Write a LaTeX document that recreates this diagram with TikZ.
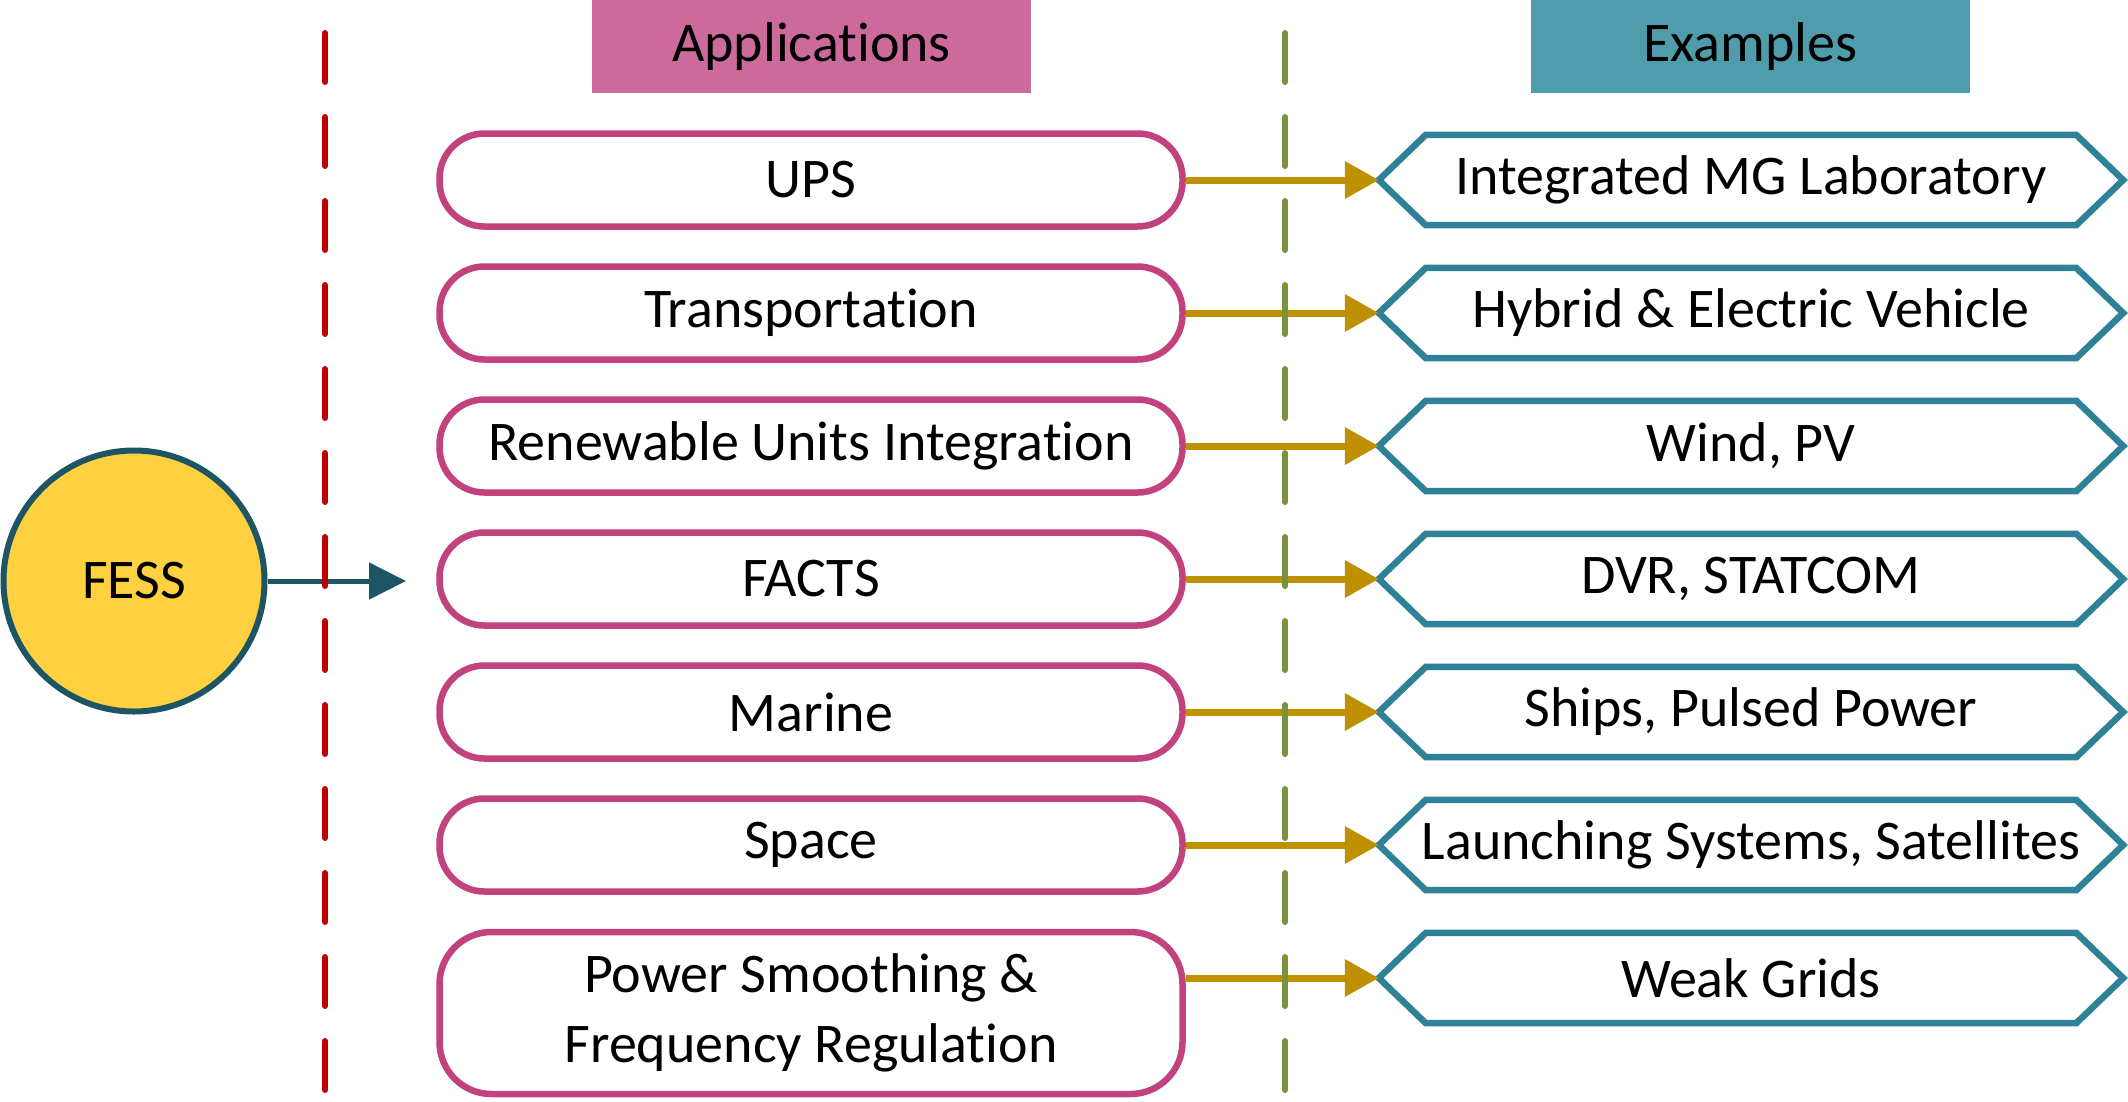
\documentclass[tikz,border=0pt]{standalone}
\usepackage{fontspec}
\setmainfont{Carlito}[Ligatures={NoCommon}]
\usetikzlibrary{arrows.meta,calc}
\definecolor{appfill}{HTML}{CD6A9C}
\definecolor{exfill}{HTML}{4E9CAC}
\definecolor{pinkline}{HTML}{C2427E}
\definecolor{tealline}{HTML}{2F8197}
\definecolor{goldarrow}{HTML}{BF9000}
\definecolor{reddash}{HTML}{C00000}
\definecolor{greendash}{HTML}{77933C}
\definecolor{fessfill}{HTML}{FFD040}
\definecolor{fessline}{HTML}{1E5564}
\begin{document}
\begin{tikzpicture}[x=1pt,y=-1pt,
  every node/.style={font=\fontsize{56}{70}\selectfont, text=black},
  header/.style={rectangle, minimum width=439pt, minimum height=93pt, inner sep=0pt},
  appbox/.style={rectangle, draw=pinkline, line width=6.5pt, fill=white, rounded corners=45pt, minimum width=743pt, minimum height=93pt, inner sep=0pt, align=center},
  exbox/.style={rectangle, minimum width=744pt, minimum height=90pt, inner sep=0pt},
  hexline/.style={draw=tealline, line width=6.5pt, line join=miter},
  link/.style={draw=goldarrow, line width=7pt, -{Triangle[length=34pt,width=36pt]}},
  divider/.style={line width=6pt, line cap=round, dash pattern=on 49pt off 35pt},
]
\useasboundingbox (0,0) rectangle (2128,1101);
\fill[white] (0,0) rectangle (2128,1101);

% headers
\node[header, fill=appfill] (apph) at (811.5,46.5) {Applications};
\node[header, fill=exfill] (exh) at (1750.5,46.5) {Examples};

% FESS
\node[circle, draw=fessline, fill=fessfill, line width=6pt, minimum size=261pt, inner sep=0pt] (fess) at (134,581) {FESS};
\coordinate (fessto) at (406,581);
\draw[draw=fessline, line width=5pt, -{Triangle[length=37pt,width=36pt]}] (fess.east) -- (fessto);

% applications
\node[appbox] (a1) at (811,180) {UPS};
\node[appbox] (a2) at (811,313) {Transportation};
\node[appbox] (a3) at (811,446) {Renewable Units Integration};
\node[appbox] (a4) at (811,579) {FACTS};
\node[appbox] (a5) at (811,712) {Marine};
\node[appbox] (a6) at (811,845) {Space};
\node[appbox, minimum height=162pt, rounded corners=52pt] (a7) at (811,1013) {Power Smoothing \&\\Frequency Regulation};

% examples
\node[exbox] (e1) at (1751,180) {Integrated MG Laboratory};
\node[exbox] (e2) at (1751,313) {Hybrid \& Electric Vehicle};
\node[exbox] (e3) at (1751,446) {Wind, PV};
\node[exbox] (e4) at (1751,579) {DVR, STATCOM};
\node[exbox] (e5) at (1751,712) {Ships, Pulsed Power};
\node[exbox] (e6) at (1751,845) {Launching Systems, Satellites};
\node[exbox] (e7) at (1751,978) {Weak Grids};
\foreach \i in {1,...,7}{
  \draw[hexline] (e\i.west) -- ($(e\i.north west)+(47,0)$) -- ($(e\i.north east)+(-47,0)$) -- (e\i.east) -- ($(e\i.south east)+(-47,0)$) -- ($(e\i.south west)+(47,0)$) -- cycle;
}

% links
\foreach \i in {1,...,6}{
  \draw[link] (a\i.east) -- (e\i.west);
}
\draw[link] (e7.west -| a7.east) -- (e7.west);

% dividers
\draw[divider, draw=reddash] (325,33) -- (325,1101);
\draw[divider, draw=greendash] (1285,33) -- (1285,1101);
\end{tikzpicture}
\end{document}
